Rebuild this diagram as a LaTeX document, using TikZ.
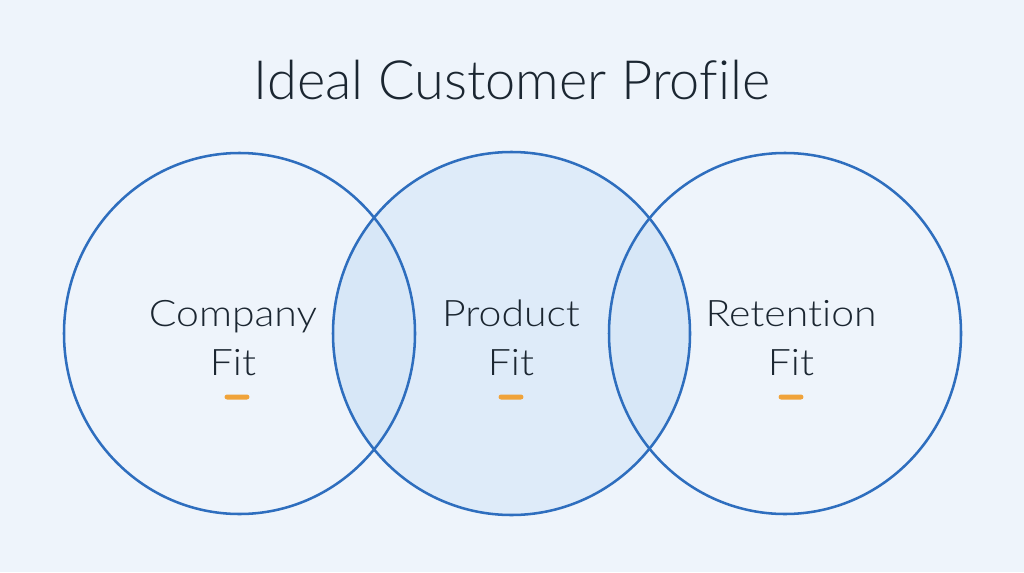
\documentclass[tikz,border=0pt]{standalone}
\usepackage{fontspec}
\usetikzlibrary{shapes.geometric}
\setmainfont{Lato}[UprightFont={* Light}, Ligatures=NoCommon]
\newfontfamily\fitfont{Lato}[UprightFont={* Light}, Ligatures=NoCommon, FakeStretch=1.12]
\definecolor{bgblue}{HTML}{EEF4FB}
\definecolor{ringblue}{HTML}{2E6EBE}
\definecolor{midfill}{HTML}{DEEBF9}
\definecolor{lensfill}{HTML}{D7E7F7}
\definecolor{inkdark}{HTML}{1B2631}
\definecolor{dashorange}{HTML}{F0A33A}
\tikzset{
  ring/.style={ellipse, draw=ringblue, line width=1.8pt, inner sep=0pt},
  fitlabel/.style={align=center, text=inkdark, font=\fitfont\fontsize{26}{35}\selectfont, inner sep=0pt},
  accent/.style={fill=dashorange, rounded corners=1.8pt, minimum width=25*0.71pt, minimum height=5*0.71pt, inner sep=0pt}
}
\begin{document}
\begin{tikzpicture}[x=0.025cm, y=-0.025cm]
\fill[bgblue] (0,0) rectangle (1024,572);
\useasboundingbox (0,0) rectangle (1024,572);
% title
\node[text=inkdark, font=\fontsize{38.5}{46}\selectfont] (title) at (512,80) {Ideal Customer Profile};
% shaded middle ring and the two lens areas
\fill[midfill] (511.5,333.5) ellipse (178.5 and 181.5);
\begin{scope}
  \clip (511.5,333.5) ellipse (178.5 and 181.5);
  \fill[lensfill] (239.5,333.5) ellipse (175.5 and 180.5);
  \fill[lensfill] (785,333.5) ellipse (176 and 180.5);
\end{scope}
% the three rings
\node[ring, minimum width=351*0.025cm, minimum height=361*0.025cm] (company) at (239.5,333.5) {};
\node[ring, minimum width=357*0.025cm, minimum height=363*0.025cm] (product) at (511.5,333.5) {};
\node[ring, minimum width=352*0.025cm, minimum height=361*0.025cm] (retention) at (785,333.5) {};
% labels
\node[fitlabel] (companytxt) at (233,338) {Company\\Fit};
\node[fitlabel] (producttxt) at (511,338) {Product\\Fit};
\node[fitlabel] (retentiontxt) at (791,338) {Retention\\Fit};
% small orange marks
\node[accent] (companydash) at (237,397) {};
\node[accent] (productdash) at (511,397) {};
\node[accent] (retentiondash) at (791,397) {};
\end{tikzpicture}
\end{document}
